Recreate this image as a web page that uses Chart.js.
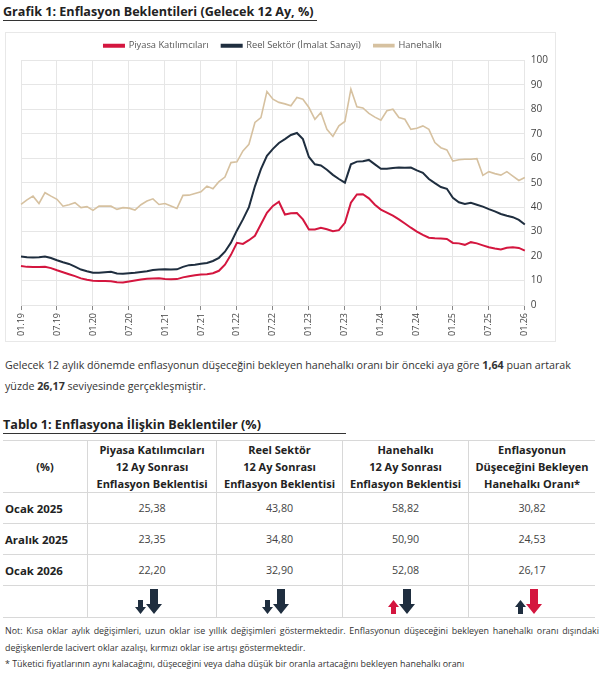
<!DOCTYPE html>
<html lang="tr">
<head>
<meta charset="utf-8">
<script src="https://cdn.jsdelivr.net/npm/chart.js@4.4.1/dist/chart.umd.min.js"></script>
<style>
  body { margin: 0; width: 605px; height: 675px; background: #fff; font-family: "Open Sans", sans-serif; color: #222; position: relative; overflow: hidden; }
  .ttl { position: absolute; left: 3px; font-weight: bold; font-size: 12.6px; line-height: 17px; border-bottom: 1px solid #333; padding-right: 3px; }
  #chartBox { position: absolute; left: 5px; top: 32px; width: 551px; height: 310px; border: 1px solid #e8e8e8; box-sizing: border-box; }
  #chartWrap { position: absolute; left: 0; top: -5px; width: 549px; height: 313px; }
  .para { position: absolute; left: 5px; top: 355px; width: 600px; font-size: 10.7px; line-height: 21px; color: #333; white-space: nowrap; }
  table { position: absolute; left: 3px; top: 440px; border-collapse: collapse; color: #222; }
  td, th { border-top: 1px solid #d8d8d8; border-bottom: 1px solid #d8d8d8; text-align: center; padding: 0; }
  td + td, th + th { border-left: 1px solid #d8d8d8; }
  th { font-weight: bold; font-size: 11px; line-height: 17px; height: 51px; }
  td { height: 30px; font-size: 10.7px; color: #444; }
  td.lbl { text-align: left; font-weight: bold; font-size: 11.4px; padding-left: 2px; color: #222; }
  tr.arr td { height: 31px; vertical-align: bottom; }
  .note { position: absolute; left: 5px; width: 594px; font-size: 8.9px; color: #333; text-align: justify; text-align-last: justify; line-height: 17px; }
</style>
</head>
<body>
<div class="ttl" style="top:3px;">Grafik 1: Enflasyon Beklentileri (Gelecek 12 Ay, %)</div>
<div id="chartBox"><div id="chartWrap"><canvas id="lineChart"></canvas></div></div>

<div class="para">Gelecek 12 aylık dönemde enflasyonun düşeceğini bekleyen hanehalkı oranı bir önceki aya göre <b>1,64</b> puan artarak<br>yüzde <b>26,17</b> seviyesinde gerçekleşmiştir.</div>

<div class="ttl" style="top:416px; width:340px;">Tablo 1: Enflasyona İlişkin Beklentiler (%)</div>

<table id="tbl"></table>

<div class="note" style="top:622px;">Not: Kısa oklar aylık değişimleri, uzun oklar ise yıllık değişimleri göstermektedir. Enflasyonun düşeceğini bekleyen hanehalkı oranı dışındaki</div>
<div class="note" style="top:639px; text-align-last:left;">değişkenlerde lacivert oklar azalışı, kırmızı oklar ise artışı göstermektedir.</div>
<div class="note" style="top:655px; text-align-last:left;">* Tüketici fiyatlarının aynı kalacağını, düşeceğini veya daha düşük bir oranla artacağını bekleyen hanehalkı oranı</div>

<script>
// Aylık etiketler 01.19 - 01.26
const months = [];
for (let y = 19; y <= 26; y++) {
    for (let m = 1; m <= 12; m++) {
        if (y === 26 && m > 1) break;
        months.push(String(m).padStart(2, "0") + "." + y);
    }
}

const piyasa = [16.0, 15.6, 15.5, 15.5, 15.6, 15.1, 14.2, 13.4, 12.6, 11.8, 10.9, 10.3,
    9.9, 9.8, 9.8, 9.7, 9.3, 9.2, 9.6, 10.0, 10.4, 10.7, 10.8, 10.9,
    10.6, 10.5, 10.6, 11.3, 11.8, 12.2, 12.5, 12.6, 13.0, 14.0, 16.5, 20.5,
    25.4, 25.0, 26.5, 28.3, 33.0, 37.7, 40.5, 42.2, 37.0, 37.5, 37.6, 35.0,
    30.9, 30.9, 31.6, 31.0, 30.2, 30.6, 33.6, 41.8, 45.2, 45.3, 43.6, 41.0,
    39.0, 37.8, 36.5, 35.0, 33.3, 31.6, 30.0, 28.7, 27.5, 27.3, 27.2, 27.0,
    25.38, 25.2, 24.6, 25.7, 25.2, 24.4, 23.6, 23.1, 22.7, 23.4, 23.6, 23.35,
    22.20];

const reelSektor = [19.8, 19.5, 19.4, 19.5, 19.8, 19.2, 18.3, 17.5, 16.8, 15.7, 14.5, 13.8,
    13.2, 13.2, 13.4, 13.6, 12.9, 12.8, 13.0, 13.2, 13.5, 13.8, 14.3, 14.5,
    14.6, 14.5, 14.6, 15.6, 16.3, 16.5, 16.9, 17.2, 18.0, 19.3, 21.8, 25.5,
    30.5, 35.0, 40.0, 48.5, 55.5, 61.0, 63.8, 66.2, 67.8, 69.5, 70.3, 67.8,
    60.5, 57.5, 57.0, 55.3, 53.2, 51.5, 50.0, 57.5, 58.6, 58.8, 59.3, 57.5,
    55.7, 55.7, 56.0, 56.2, 56.1, 56.2, 55.0, 54.0, 51.5, 49.8, 48.2, 47.5,
    43.80, 42.0, 41.3, 41.8, 41.0, 40.2, 39.2, 38.3, 37.2, 36.5, 35.9, 34.80,
    32.90];

const hanehalki = [41.1, 43.0, 44.5, 41.5, 45.9, 44.5, 43.2, 40.4, 41.0, 41.8, 39.8, 40.2,
    38.7, 40.4, 40.4, 40.4, 39.1, 39.8, 39.6, 38.8, 41.0, 42.5, 43.4, 41.1,
    41.5, 40.5, 39.5, 44.8, 44.9, 45.6, 46.3, 48.6, 47.5, 50.4, 52.3, 58.2,
    58.5, 63.0, 65.7, 74.6, 76.6, 87.2, 84.1, 82.8, 82.2, 81.4, 84.8, 84.1,
    80.7, 75.9, 78.7, 71.8, 68.9, 73.2, 75.0, 88.2, 81.0, 80.5, 78.3, 76.8,
    75.5, 79.4, 80.0, 76.6, 75.9, 71.8, 72.2, 73.2, 71.8, 66.4, 64.3, 63.4,
    58.82, 59.4, 59.6, 59.6, 59.8, 53.0, 54.5, 53.7, 53.1, 54.5, 52.7, 50.90,
    52.08];

const seriesNames = ["Piyasa Katılımcıları", "Reel Sektör (İmalat Sanayi)", "Hanehalkı"];
const seriesColors = ["#d4163f", "#1f2e3f", "#d6c1a0"];

// Tablo verileri
const tableHeaders = ["(%)", "Piyasa Katılımcıları<br>12 Ay Sonrası<br>Enflasyon Beklentisi",
    "Reel Sektör<br>12 Ay Sonrası<br>Enflasyon Beklentisi",
    "Hanehalkı<br>12 Ay Sonrası<br>Enflasyon Beklentisi",
    "Enflasyonun<br>Düşeceğini Bekleyen<br>Hanehalkı Oranı*"];
const tableRows = ["Ocak 2025", "Aralık 2025", "Ocak 2026"];
const tableValues = [
    ["25,38", "43,80", "58,82", "30,82"],
    ["23,35", "34,80", "50,90", "24,53"],
    ["22,20", "32,90", "52,08", "26,17"]
];
// kısa ok (aylık) ve uzun ok (yıllık): yön, renk
const arrowsShort = [["down", "navy"], ["down", "navy"], ["up", "red"], ["up", "navy"]];
const arrowsLong = [["down", "navy"], ["down", "navy"], ["down", "navy"], ["down", "red"]];
const colWidths = [84, 128, 125, 125, 126];

function arrowSvg(dir, color, long) {
    const c = color === "red" ? "#d4163f" : "#1f2e3f";
    const w = long ? 16 : 11, h = long ? 25 : 14, sw = long ? 8 : 5, hh = long ? 10 : 7;
    const x0 = (w - sw) / 2, x1 = (w + sw) / 2;
    let pts;
    if (dir === "down") {
        pts = `${x0},0 ${x1},0 ${x1},${h - hh} ${w},${h - hh} ${w / 2},${h} 0,${h - hh} ${x0},${h - hh}`;
    } else {
        pts = `${w / 2},0 ${w},${hh} ${x1},${hh} ${x1},${h} ${x0},${h} ${x0},${hh} 0,${hh}`;
    }
    return `<svg width="${w}" height="${h}" style="vertical-align:bottom"><polygon points="${pts}" fill="${c}"/></svg>`;
}

const tbl = document.getElementById("tbl");
let html = "<tr>" + tableHeaders.map((h, i) => `<th style="width:${colWidths[i]}px">${h}</th>`).join("") + "</tr>";
tableRows.forEach((r, i) => {
    html += `<tr><td class="lbl">${r}</td>` + tableValues[i].map(v => `<td>${v}</td>`).join("") + "</tr>";
});
html += '<tr class="arr"><td></td>' + arrowsShort.map((s, i) =>
    `<td><div style="padding-bottom:3px; padding-right:8px">${arrowSvg(s[0], s[1], false)}${arrowSvg(arrowsLong[i][0], arrowsLong[i][1], true)}</div></td>`).join("") + "</tr>";
tbl.innerHTML = html;

/*** LINE CHART ***/
const ctx = document.getElementById("lineChart").getContext("2d");
new Chart(ctx, {
    type: "line",
    data: {
        labels: months,
        datasets: [piyasa, reelSektor, hanehalki].map((d, i) => ({
            label: seriesNames[i],
            data: d,
            borderColor: seriesColors[i],
            backgroundColor: seriesColors[i],
            borderWidth: i === 2 ? 1.6 : 2,
            pointRadius: 0,
            tension: 0
        }))
    },
    options: {
        responsive: true,
        maintainAspectRatio: false,
        animation: false,
        layout: { padding: { left: 15, right: 1, top: 0, bottom: 2 } },
        plugins: {
            legend: {
                fullSize: false,
                labels: { boxWidth: 20, boxHeight: 2, color: "#555", font: { family: "Open Sans", size: 9.3 }, padding: 13 }
            },
            tooltip: { enabled: false }
        },
        scales: {
            x: {
                offset: false,
                grid: {
                    color: c => (c.index % 6 === 0 ? "#e6e6e6" : "rgba(0,0,0,0)"),
                    tickColor: c => (c.index % 6 === 0 ? "#888" : "rgba(0,0,0,0)"),
                    tickLength: 5
                },
                border: { display: false },
                ticks: {
                    autoSkip: false,
                    maxRotation: 90,
                    minRotation: 90,
                    color: "#444",
                    font: { family: "Open Sans", size: 9 },
                    padding: 3,
                    callback: function (v, i) { return i % 6 === 0 ? months[i] : ""; }
                }
            },
            y: {
                position: "right",
                min: 0,
                max: 100,
                grid: { color: "#e6e6e6", drawTicks: false },
                border: { display: false },
                ticks: { stepSize: 10, color: "#444", font: { family: "Open Sans", size: 10 }, padding: 6 }
            }
        }
    }
});
</script>
</body>
</html>
